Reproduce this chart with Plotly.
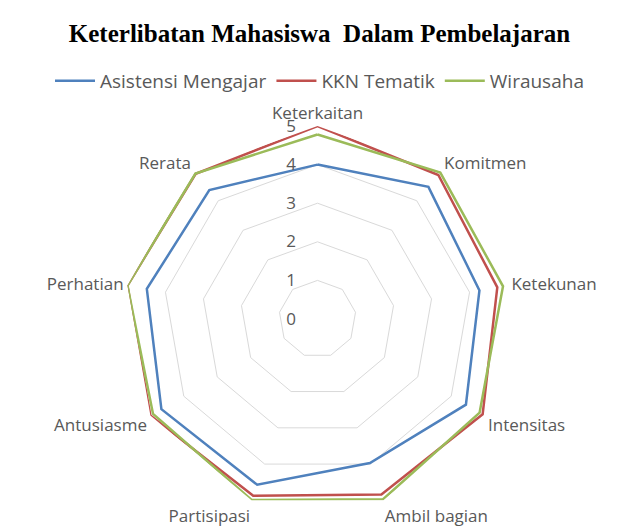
import plotly.graph_objects as go

categories = ["Keterkaitan", "Komitmen", "Ketekunan", "Intensitas", "Ambil bagian",
              "Partisipasi", "Antusiasme", "Perhatian", "Rerata"]
asistensi = [4.0, 4.47, 4.26, 4.44, 3.97, 4.57, 4.67, 4.49, 4.36]
kkn = [5.0, 4.87, 4.73, 4.94, 4.84, 4.87, 5.0, 5.0, 4.91]
wirausaha = [4.78, 4.95, 4.88, 4.85, 4.97, 4.99, 4.92, 5.0, 4.92]
radial_ticks = [0, 1, 2, 3, 4, 5]

series = [("Asistensi Mengajar", asistensi, "#4F81BD"),
          ("KKN Tematik", kkn, "#C0504D"),
          ("Wirausaha", wirausaha, "#9BBB59")]

fig = go.Figure()
for name, vals, color in series:
    fig.add_trace(go.Scatterpolar(
        r=vals + vals[:1], theta=categories + categories[:1], name=name,
        mode="lines", line=dict(color=color, width=2.5)))

W, H = 623, 531
cx, cy, R = 309.5, 311, 193

lab_font = dict(family="Open Sans", size=17, color="#595959")
fig.update_layout(
    width=W, height=H,
    margin=dict(l=0, r=0, t=0, b=0),
    paper_bgcolor="white", plot_bgcolor="white",
    title=dict(text="<b>Keterlibatan Mahasiswa  Dalam Pembelajaran</b>",
               x=0.5, xanchor="center", y=1 - 25 / H, yanchor="middle",
               font=dict(family="Liberation Serif", size=25, color="black")),
    legend=dict(orientation="h", x=0.5, xanchor="center", y=1 - 73 / H, yanchor="middle",
                font=dict(family="Open Sans", size=19, color="#595959"),
                itemwidth=40, tracegroupgap=0),
    polar=dict(
        domain=dict(x=[(cx - R) / W, (cx + R) / W], y=[(H - cy - R) / H, (H - cy + R) / H]),
        bgcolor="white",
        gridshape="linear",
        radialaxis=dict(range=[0, 5], tickvals=radial_ticks, angle=90, tickangle=90,
                        showline=False, gridcolor="#D9D9D9", gridwidth=1,
                        ticks="outside", ticklen=15, tickcolor="rgba(0,0,0,0)",
                        side="counterclockwise",
                        tickfont=lab_font),
        angularaxis=dict(rotation=90, direction="clockwise", showgrid=False,
                         showline=False, ticks="outside", ticklen=0,
                         tickcolor="rgba(0,0,0,0)",
                         tickfont=lab_font),
    ),
)
fig.write_html("out.html")
